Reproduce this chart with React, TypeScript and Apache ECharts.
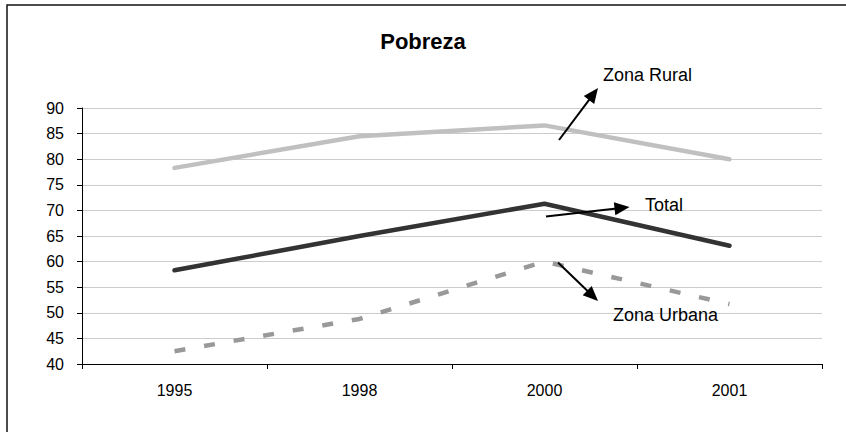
import React, { useEffect, useRef } from "react";
import * as echarts from "echarts";

const categories = ["1995", "1998", "2000", "2001"];
const ruralValues = [78.3, 84.5, 86.6, 80.0];
const totalValues = [58.3, 65.0, 71.3, 63.1];
const urbanValues = [42.5, 48.8, 60.0, 51.7];
const yTicks = { min: 40, max: 90, interval: 5 };

const FONT = "Liberation Sans";

function arrow(x1: number, y1: number, x2: number, y2: number) {
  const len = 15;
  const half = 6.5;
  const dx = x2 - x1;
  const dy = y2 - y1;
  const d = Math.sqrt(dx * dx + dy * dy);
  const ux = dx / d;
  const uy = dy / d;
  const bx = x2 - ux * len;
  const by = y2 - uy * len;
  const px = -uy;
  const py = ux;
  return [
    {
      type: "line",
      shape: { x1, y1, x2: bx + ux * 2, y2: by + uy * 2 },
      style: { stroke: "#000", lineWidth: 2 },
    },
    {
      type: "polygon",
      shape: {
        points: [
          [x2, y2],
          [bx + px * half, by + py * half],
          [bx - px * half, by - py * half],
        ],
      },
      style: { fill: "#000" },
    },
  ];
}

function label(text: string, x: number, y: number) {
  return {
    type: "text",
    x,
    y,
    style: {
      text,
      font: `18px ${FONT}`,
      fill: "#000",
      textVerticalAlign: "bottom",
      verticalAlign: "bottom",
    },
    z: 10,
  };
}

export default function App() {
  const ref = useRef<HTMLDivElement>(null);
  useEffect(() => {
    document.body.style.margin = "0";
    if (!ref.current) return;
    const chart = echarts.init(ref.current, undefined, { renderer: "svg" });
    const lineBase = { type: "line", showSymbol: false, symbol: "none", smooth: false };
    chart.setOption({
      animation: false,
      backgroundColor: "#ffffff",
      title: {
        text: "Pobreza",
        left: "center",
        top: 25,
        textStyle: { fontFamily: FONT, fontSize: 22, fontWeight: "bold", color: "#000" },
      },
      grid: { left: 82, right: 24, top: 108, bottom: 68 },
      xAxis: {
        type: "category",
        data: categories,
        boundaryGap: true,
        axisLine: { lineStyle: { color: "#000", width: 1 } },
        axisTick: { show: true, length: 5, lineStyle: { color: "#000" } },
        axisLabel: { fontFamily: FONT, fontSize: 16, color: "#000", margin: 18 },
        splitLine: { show: false },
      },
      yAxis: {
        type: "value",
        min: yTicks.min,
        max: yTicks.max,
        interval: yTicks.interval,
        axisLine: { show: true, lineStyle: { color: "#000", width: 1 } },
        axisTick: { show: true, inside: false, length: 5, lineStyle: { color: "#000" } },
        axisLabel: { fontFamily: FONT, fontSize: 16, color: "#000", margin: 18 },
        splitLine: { show: true, lineStyle: { color: "#cccccc", width: 1 } },
      },
      series: [
        {
          ...lineBase,
          name: "Zona Rural",
          data: ruralValues,
          lineStyle: { color: "#c0c0c0", width: 4.5, cap: "round" },
          z: 3,
        },
        {
          ...lineBase,
          name: "Total",
          data: totalValues,
          lineStyle: { color: "#333333", width: 4.5, cap: "round" },
          z: 4,
        },
        {
          ...lineBase,
          name: "Zona Urbana",
          data: urbanValues,
          lineStyle: { color: "#999999", width: 4.5, type: [11, 19], cap: "butt" },
          z: 3,
        },
      ],
      graphic: [
        {
          type: "rect",
          shape: { x: 7, y: 5, width: 846, height: 440 },
          style: { fill: "none", stroke: "#111", lineWidth: 1.5 },
          silent: true,
          z: -1,
        },
        label("Zona Rural", 603, 84),
        label("Total", 645, 214),
        label("Zona Urbana", 613, 324),
        ...arrow(559, 140, 598, 88).map((e) => ({ ...e, z: 10 })),
        ...arrow(546, 216.5, 629.5, 207).map((e) => ({ ...e, z: 10 })),
        ...arrow(558, 262.5, 598, 301).map((e) => ({ ...e, z: 10 })),
      ],
    });
    return () => chart.dispose();
  }, []);
  return <div ref={ref} style={{ width: 846, height: 432 }} />;
}
